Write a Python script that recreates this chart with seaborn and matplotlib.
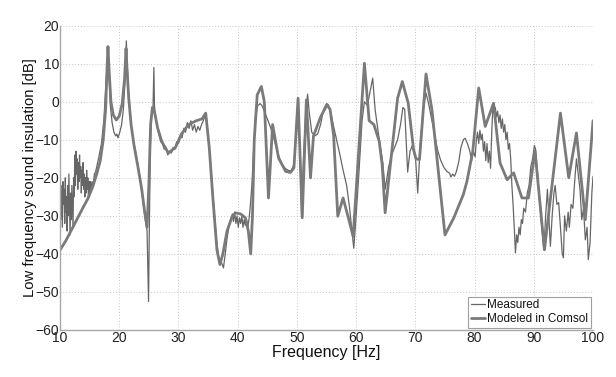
import matplotlib
matplotlib.use("Agg")
import matplotlib.pyplot as plt
import seaborn as sns
import pandas as pd

# ---- data ----
model_freq = [10.0, 11.0, 12.0, 13.0, 14.0, 14.7, 15.5, 16.2, 16.8, 17.3, 17.7, 17.95, 18.1, 18.3, 18.6,
              19.0, 19.5, 20.0, 20.5, 20.9, 21.15, 21.3, 21.6, 22.0, 22.5, 23.2, 23.8, 24.3, 24.7, 25.0,
              25.3, 25.6, 26.0, 26.5, 27.2, 28.3, 29.5, 30.5, 31.7, 33.0, 34.0, 34.6, 35.2, 35.8, 36.5,
              37.0, 37.5, 38.2, 39.0, 39.6, 40.5, 41.3, 41.8, 42.2, 42.5, 42.8, 43.3, 44.0, 44.5, 45.2,
              45.9, 46.9, 48.1, 48.9, 49.5, 50.2, 50.9, 51.6, 52.3, 52.8, 54.0, 55.1, 55.6, 56.2, 56.9,
              57.8, 58.6, 59.5, 61.4, 62.2, 63.0, 63.9, 64.4, 64.9, 67.0, 67.8, 68.8, 69.7, 70.1, 70.7,
              71.8, 72.8, 75.0, 76.5, 78.1, 78.7, 79.7, 80.7, 81.8, 83.2, 84.3, 85.5, 86.6, 88.0, 89.1,
              90.2, 91.8, 94.5, 95.9, 97.2, 98.7, 100.0]
model_db = [-39, -36.5, -33.5, -30.5, -27.5, -25.5, -22.5, -19, -15.5, -10, -2, 9, 14.5, 8, 0,
            -3.5, -4.8, -3.8, -0.5, 6, 14, 9, 1, -6, -11.5, -17.5, -23, -29, -33, -22,
            -6, -1.5, -3, -7, -10.5, -13.5, -12, -8.5, -6, -5, -4.5, -3, -12, -25, -39,
            -42.8, -40, -34, -30.5, -29.2, -29.5, -30.5, -34, -40, -30, -10, 1.8, 4.0, 0, -25.3,
            -6, -14.8, -18.3, -18.6, -17.4, 0.9, -30.5, 0.5, -20, -9, -4, -0.8, -2, -8.8, -30.1,
            -25.3, -30, -35.4, 10.1, -5, -6, -10.4, -16.6, -29.2, 0.9, 5.3, -0.4, -12.6, -15, -15.2,
            7.3, -2.1, -35, -30.5, -24.4, -21, -13, 3.6, -6.5, -0.4, -16.1, -20.5, -18.7, -25.3, -25.3,
            -13, -38.9, -3, -20, -8.2, -31, -5]

meas_freq = [10.0, 10.1, 10.2, 10.3, 10.4, 10.5, 10.6, 10.7, 10.8, 10.9, 11.0, 11.1, 11.2, 11.3, 11.4,
             11.5, 11.6, 11.7, 11.8, 11.9, 12.0, 12.1, 12.2, 12.3, 12.4, 12.5, 12.6, 12.7, 12.8, 12.9,
             13.0, 13.1, 13.2, 13.3, 13.4, 13.5, 13.6, 13.7, 13.8, 13.9, 14.0, 14.1, 14.2, 14.3, 14.4,
             14.5, 14.6, 14.7, 14.8, 14.9, 15.0, 15.1, 15.2, 15.4, 15.6, 15.8, 16.0, 16.5, 17.0, 17.4,
             17.7, 17.95, 18.1, 18.25, 18.5, 18.8, 19.1, 19.4, 19.6, 19.8, 20.1, 20.4, 20.7, 21.0, 21.2,
             21.35, 21.6, 22.0, 22.5, 23.0, 23.5, 24.0, 24.4, 24.7, 24.85, 24.95, 25.05, 25.25, 25.45, 25.7,
             25.85, 25.95, 26.2, 26.6, 27.0, 27.3, 27.6, 27.9, 28.2, 28.5, 28.8, 29.1, 29.4, 29.7, 30.0,
             30.3, 30.6, 30.9, 31.2, 31.5, 31.8, 32.1, 32.4, 32.7, 33.0, 33.3, 33.6, 33.9, 34.2, 34.5,
             34.7, 35.2, 35.8, 36.4, 36.8, 37.2, 37.6, 37.9, 38.2, 38.5, 38.8, 39.1, 39.3, 39.5, 39.7,
             39.9, 40.1, 40.3, 40.5, 40.7, 40.9, 41.1, 41.3, 41.5, 41.7, 41.9, 42.1, 42.4, 42.7, 43.0,
             43.4, 43.8, 44.1, 44.5, 45.0, 45.5, 46.0, 46.5, 47.0, 47.5, 48.0, 48.5, 49.0, 49.5, 49.9,
             50.2, 50.5, 50.8, 51.1, 51.5, 51.8, 52.1, 52.5, 53.0, 53.5, 54.0, 54.5, 55.0, 55.3, 55.8,
             56.2, 56.7, 57.2, 57.8, 58.4, 58.9, 59.3, 59.6, 60.0, 60.5, 61.0, 61.4, 61.9, 62.4, 62.8,
             63.2, 63.6, 64.0, 64.5, 64.9, 65.5, 66.0, 66.5, 67.0, 67.5, 67.9, 68.2, 68.7, 69.1, 69.5,
             70.0, 70.4, 70.8, 71.3, 71.8, 72.3, 72.8, 73.3, 73.8, 74.3, 74.8, 75.3, 75.8, 76.0, 76.3,
             76.6, 76.9, 77.3, 77.7, 78.1, 78.4, 78.8, 79.2, 79.5, 79.8, 80.1, 80.3, 80.5, 80.7, 80.9,
             81.1, 81.3, 81.5, 81.7, 81.9, 82.1, 82.3, 82.5, 82.7, 82.9, 83.1, 83.3, 83.5, 83.7, 83.9,
             84.1, 84.3, 84.5, 84.7, 84.9, 85.1, 85.3, 85.5, 85.7, 85.9, 86.1, 86.3, 86.5, 86.7, 86.9,
             87.1, 87.3, 87.5, 87.7, 87.9, 88.1, 88.3, 88.6, 88.9, 89.2, 89.5, 89.8, 90.1, 90.3, 90.6,
             91.0, 91.4, 91.7, 92.0, 92.3, 92.6, 92.8, 93.1, 93.4, 93.6, 93.9, 94.2, 94.5, 94.8, 95.0,
             95.2, 95.5, 95.8, 96.0, 96.3, 96.6, 96.9, 97.2, 97.5, 97.8, 98.1, 98.4, 98.7, 99.0, 99.2,
             99.5, 99.8, 100.0]
meas_db = [-24, -31, -22, -28, -33, -21, -27, -23, -32, -20, -29, -25, -34, -22, -30,
           -19, -27, -35, -24, -31, -22, -28, -33, -20, -25, -14, -22, -13, -19, -15,
           -23, -16, -21, -14, -20, -17, -24, -18, -22, -16, -23, -19, -25, -20, -24,
           -18, -23, -20, -25, -21, -24, -21, -23, -21, -22, -19, -18.5, -15, -11, -5,
           3, 10, 14, 8, -1, -5.5, -8, -9, -8.5, -9.5, -8, -6, -2, 6, 16,
           10, 2, -6, -11, -15, -20, -26, -31, -34, -45, -52.5, -38, -12, -4, -2,
           9, -1, -5, -8, -10.5, -11, -12.5, -12, -14, -13, -13.5, -12, -12.5, -10.5, -11,
           -9, -9.5, -7, -8, -5.5, -7, -5, -7.5, -6, -8, -6.5, -7.5, -6, -5, -3.5,
           -4, -12, -24, -36, -41, -42, -43.7, -40, -36, -33, -31, -29.5, -31.5, -29, -32,
           -30, -33, -30.5, -32, -30, -33, -31, -32.5, -31, -33, -31, -28, -22, -12, -4,
           -1, -0.5, -1, -2.5, -4.5, -6.5, -9, -12, -14.5, -16.5, -17.5, -18, -18.2, -16.5, -8,
           0.5, -12, -30.5, -15, -3, 2, -3, -8, -9, -8.5, -6, -2, -0.5, -0.8, -3.5,
           -6.5, -10, -13.5, -18, -22, -28, -34, -38.5, -30, -18, -5, 0, -1, 3, 6.2,
           -2, -6.5, -11, -16, -23, -17, -14, -12, -10, -6, -1.5, -2, -18.5, -13, -11.5,
           -14, -24, -12, -2, 2.3, -1, -5, -9, -13, -15.5, -17.2, -18.3, -18.8, -19.8, -19,
           -19.6, -18.5, -16, -12, -10, -9.6, -11, -13, -15.5, -13, -14.5, -10, -8, -11, -7.5,
           -10, -8.5, -13, -10.5, -15.5, -11, -16, -13, -17.5, -8, -1, -3, -1.5, -4, -2.5,
           -5.5, -3.5, -7, -4.5, -8, -6, -10, -8, -12.5, -11, -15, -22, -27, -33, -39.7,
           -35, -37, -33, -35, -31, -32, -28, -29, -24, -22, -17, -15, -11.5, -12.5, -18,
           -27, -34, -39, -30, -23, -32, -38, -30, -24, -22, -27, -26.5, -33, -40, -41,
           -30, -34, -29, -33, -27, -28, -21, -15, -19, -23, -31, -28, -36.3, -33, -41.5,
           -37, -24, -19.6]

x_ticks = [10, 20, 30, 40, 50, 60, 70, 80, 90, 100]
y_ticks = [-60, -50, -40, -30, -20, -10, 0, 10, 20]

sns.set_theme(style="white")
plt.rcParams['font.family'] = ['Liberation Sans', 'DejaVu Sans']

fig = plt.figure(figsize=(6.16, 3.77), dpi=100)
ax = fig.add_axes([0.0974, 0.1247, 0.8653, 0.8073])

df_meas = pd.DataFrame({"f": meas_freq, "db": meas_db})
df_model = pd.DataFrame({"f": model_freq, "db": model_db})

sns.lineplot(data=df_meas, x="f", y="db", ax=ax, color="#666666", lw=0.9,
             label="Measured", sort=False, estimator=None)
sns.lineplot(data=df_model, x="f", y="db", ax=ax, color="#7a7a7a", lw=2.0,
             label="Modeled in Comsol", sort=False, estimator=None)

ax.set_xlim(10, 100)
ax.set_ylim(-60, 20)
ax.set_xticks(x_ticks)
ax.set_yticks(y_ticks)
ax.grid(True, linestyle=(0, (1, 2)), color="#c8c8c8", lw=0.7)
for s in ["top", "right"]:
    ax.spines[s].set_visible(False)
for s in ["left", "bottom"]:
    ax.spines[s].set_color("#a8a8a8")
    ax.spines[s].set_linewidth(1.0)
ax.tick_params(axis="both", labelsize=10, colors="#222222", length=0, pad=0.5)
ax.set_xlabel("Frequency [Hz]", fontsize=11.5, color="#111111", labelpad=0)
ax.set_ylabel("Low frequency sound insulation [dB]", fontsize=10.7, color="#111111", labelpad=-1)

leg = ax.legend(loc="lower right", fontsize=8.5, frameon=True, fancybox=False,
                handlelength=1.2, handletextpad=0.2, borderpad=0.25, labelspacing=0.15,
                borderaxespad=0.15)
leg.get_frame().set_edgecolor("#888888")
leg.get_frame().set_linewidth(0.8)
for t in leg.get_texts():
    t.set_color("#111111")

fig.savefig("out.png", dpi=100)
